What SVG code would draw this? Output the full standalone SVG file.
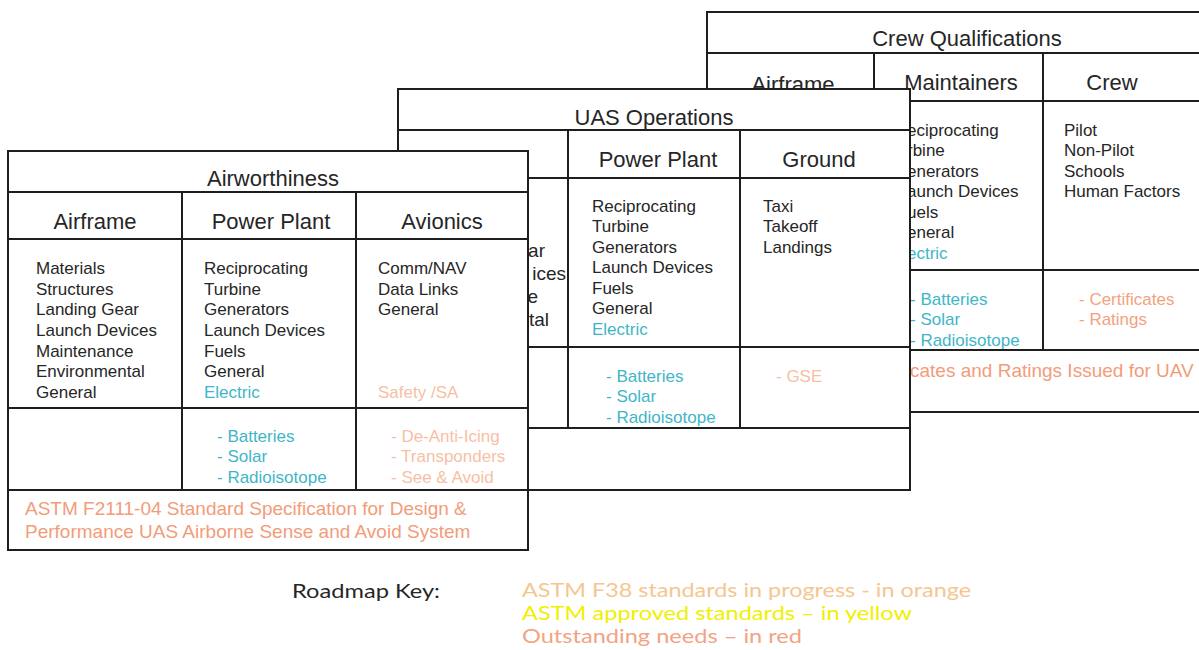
<svg xmlns="http://www.w3.org/2000/svg" width="1199" height="650" viewBox="0 0 1199 650">
<style>
.box{fill:#fff;stroke:#1e1e1e;stroke-width:2}
.ln{stroke:#1e1e1e;stroke-width:2}
text{font-family:"Liberation Sans",Arial,sans-serif;fill:#262626}
.ttl{font-size:22px;text-anchor:middle}
.c{font-size:17px}
.frag{font-size:19px}
.blue{fill:#3fb6c8}
.or{fill:#f4a27e}
.pale{fill:#f7c0a4}
.astm{font-size:19px;fill:#f29c7a}
.key{font-family:Lato,"Liberation Sans",sans-serif;font-size:19px}
</style>
<rect width="1199" height="650" fill="#fff"/>

<g id="crew-qualifications">
  <rect class="box" x="707" y="12" width="520" height="400"/>
  <line class="ln" x1="707" y1="53" x2="1227" y2="53"/>
  <line class="ln" x1="707" y1="101" x2="1227" y2="101"/>
  <line class="ln" x1="707" y1="270" x2="1227" y2="270"/>
  <line class="ln" x1="707" y1="350" x2="1227" y2="350"/>
  <line class="ln" x1="874" y1="53" x2="874" y2="350"/>
  <line class="ln" x1="1043" y1="53" x2="1043" y2="350"/>
  <text class="ttl" x="967" y="46">Crew Qualifications</text>
  <text class="ttl" x="793" y="92">Airframe</text>
  <text class="ttl" x="961" y="90">Maintainers</text>
  <text class="ttl" x="1112" y="90">Crew</text>
  <text class="c" x="907" y="136">eciprocating</text>
  <text class="c" x="907" y="156">rbine</text>
  <text class="c" x="907" y="177">enerators</text>
  <text class="c" x="907" y="197">aunch Devices</text>
  <text class="c" x="907" y="218">uels</text>
  <text class="c" x="907" y="238">eneral</text>
  <text class="c blue" x="907" y="259">ectric</text>
  <text class="c" x="1064" y="136">Pilot</text>
  <text class="c" x="1064" y="156">Non-Pilot</text>
  <text class="c" x="1064" y="177">Schools</text>
  <text class="c" x="1064" y="197">Human  Factors</text>
  <text class="c blue" x="910" y="305">- Batteries</text>
  <text class="c blue" x="910" y="325">- Solar</text>
  <text class="c blue" x="910" y="346">- Radioisotope</text>
  <text class="c or" x="1079" y="305">- Certificates</text>
  <text class="c or" x="1079" y="325">- Ratings</text>
  <text class="astm" x="910" y="377">cates and Ratings Issued for UAV</text>
</g>

<g id="uas-operations">
  <rect class="box" x="398" y="89" width="512" height="401"/>
  <line class="ln" x1="398" y1="130" x2="910" y2="130"/>
  <line class="ln" x1="398" y1="178" x2="910" y2="178"/>
  <line class="ln" x1="398" y1="347" x2="910" y2="347"/>
  <line class="ln" x1="398" y1="428" x2="910" y2="428"/>
  <line class="ln" x1="568" y1="130" x2="568" y2="428"/>
  <line class="ln" x1="740" y1="130" x2="740" y2="428"/>
  <text class="ttl" x="654" y="125">UAS Operations</text>
  <text class="ttl" x="658" y="167">Power Plant</text>
  <text class="ttl" x="819" y="167">Ground</text>
  <text class="frag" x="545" y="257" text-anchor="end">ar</text>
  <text class="frag" x="566" y="280" text-anchor="end">ices</text>
  <text class="frag" x="538" y="303" text-anchor="end">e</text>
  <text class="frag" x="549" y="326" text-anchor="end">tal</text>
  <text class="c" x="592" y="212">Reciprocating</text>
  <text class="c" x="592" y="232">Turbine</text>
  <text class="c" x="592" y="253">Generators</text>
  <text class="c" x="592" y="273">Launch  Devices</text>
  <text class="c" x="592" y="294">Fuels</text>
  <text class="c" x="592" y="314">General</text>
  <text class="c blue" x="592" y="335">Electric</text>
  <text class="c" x="763" y="212">Taxi</text>
  <text class="c" x="763" y="232">Takeoff</text>
  <text class="c" x="763" y="253">Landings</text>
  <text class="c blue" x="606" y="382">- Batteries</text>
  <text class="c blue" x="606" y="402">- Solar</text>
  <text class="c blue" x="606" y="423">- Radioisotope</text>
  <text class="c pale" x="776" y="382">- GSE</text>
</g>

<g id="airworthiness">
  <rect class="box" x="8" y="151" width="520" height="399"/>
  <line class="ln" x1="8" y1="192" x2="528" y2="192"/>
  <line class="ln" x1="8" y1="239" x2="528" y2="239"/>
  <line class="ln" x1="8" y1="408" x2="528" y2="408"/>
  <line class="ln" x1="8" y1="490" x2="528" y2="490"/>
  <line class="ln" x1="182" y1="192" x2="182" y2="490"/>
  <line class="ln" x1="356" y1="192" x2="356" y2="490"/>
  <text class="ttl" x="273" y="186">Airworthiness</text>
  <text class="ttl" x="95" y="229">Airframe</text>
  <text class="ttl" x="271" y="229">Power Plant</text>
  <text class="ttl" x="442" y="229">Avionics</text>
  <text class="c" x="36" y="274">Materials</text>
  <text class="c" x="36" y="295">Structures</text>
  <text class="c" x="36" y="315">Landing  Gear</text>
  <text class="c" x="36" y="336">Launch  Devices</text>
  <text class="c" x="36" y="357">Maintenance</text>
  <text class="c" x="36" y="377">Environmental</text>
  <text class="c" x="36" y="398">General</text>
  <text class="c" x="204" y="274">Reciprocating</text>
  <text class="c" x="204" y="295">Turbine</text>
  <text class="c" x="204" y="315">Generators</text>
  <text class="c" x="204" y="336">Launch  Devices</text>
  <text class="c" x="204" y="357">Fuels</text>
  <text class="c" x="204" y="377">General</text>
  <text class="c blue" x="204" y="398">Electric</text>
  <text class="c" x="378" y="274">Comm/NAV</text>
  <text class="c" x="378" y="295">Data  Links</text>
  <text class="c" x="378" y="315">General</text>
  <text class="c pale" x="378" y="398">Safety /SA</text>
  <text class="c blue" x="217" y="442">- Batteries</text>
  <text class="c blue" x="217" y="462">- Solar</text>
  <text class="c blue" x="217" y="483">- Radioisotope</text>
  <text class="c pale" x="391" y="442">- De-Anti-Icing</text>
  <text class="c pale" x="391" y="462">- Transponders</text>
  <text class="c pale" x="391" y="483">- See &amp; Avoid</text>
  <text class="astm" x="25" y="515">ASTM F2111-04 Standard Specification for Design &amp;</text>
  <text class="astm" x="25" y="538">Performance UAS Airborne Sense and Avoid System</text>
</g>

<g id="roadmap-key">
  <text class="key" x="292" y="598" textLength="148" lengthAdjust="spacingAndGlyphs">Roadmap Key:</text>
  <text class="key" x="522" y="597" style="fill:#f5c690" textLength="449" lengthAdjust="spacingAndGlyphs">ASTM F38 standards in progress - in orange</text>
  <text class="key" x="522" y="620" style="fill:#f0f000" textLength="390" lengthAdjust="spacingAndGlyphs">ASTM approved standards – in yellow</text>
  <text class="key" x="522" y="643" style="fill:#f2a384" textLength="280" lengthAdjust="spacingAndGlyphs">Outstanding needs – in red</text>
</g>
</svg>
